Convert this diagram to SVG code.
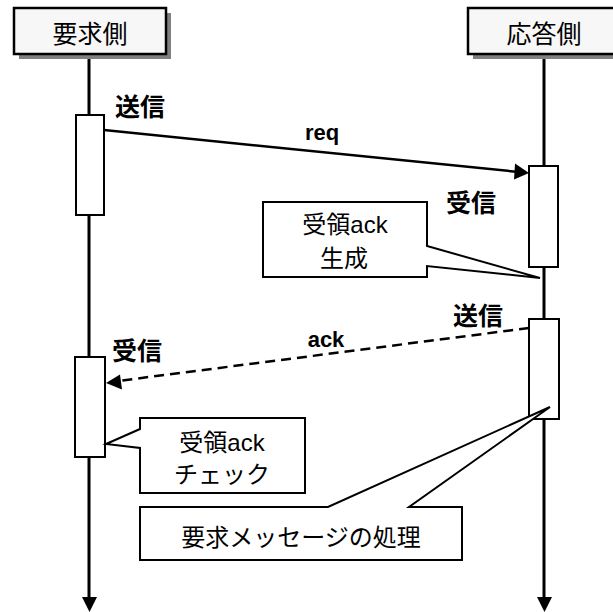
<svg xmlns="http://www.w3.org/2000/svg" width="613" height="612" viewBox="0 0 613 612">
<defs>
<style>
.t{font-family:"Liberation Sans","Noto Sans CJK JP",sans-serif;fill:#000}
.h{font-size:25px;text-anchor:middle}
.b{font-size:25px;font-weight:bold}
.l{font-size:22px;font-weight:bold;text-anchor:middle}
.c{font-size:24px;text-anchor:middle}
.box{fill:#fff;stroke:#000;stroke-width:2}
.hdr{fill:#f7f7f7;stroke:#000;stroke-width:2.5}
.sh{fill:#808080}
.life{stroke:#000;stroke-width:3;fill:none}
</style>
</defs>
<g id="connectors">
<line class="life" x1="89" y1="54" x2="89" y2="598"/>
<path d="M82,597 L97,597 L89.5,612 z" fill="#000"/>
<line class="life" x1="544" y1="54" x2="544" y2="598"/>
<path d="M537,597 L552,597 L544.5,612 z" fill="#000"/>
<line x1="104" y1="130" x2="519" y2="172" stroke="#000" stroke-width="2.5"/>
<path d="M529,173 L515,163.5 L514,179.5 z" fill="#000"/>
<line x1="529" y1="328" x2="118" y2="381" stroke="#000" stroke-width="2.5" stroke-dasharray="10,6"/>
<path d="M106,383 L120,374.5 L122,389.5 z" fill="#000"/>
</g>
<g id="req-header">
<rect class="sh" x="19" y="13" width="152" height="46"/>
<rect class="hdr" x="14" y="8" width="152" height="46"/>
<text class="t h" x="90" y="43">要求側</text>
</g>
<g id="res-header">
<rect class="sh" x="473" y="13" width="152" height="46"/>
<rect class="hdr" x="468" y="8" width="152" height="46"/>
<text class="t h" x="544" y="43">応答側</text>
</g>
<g id="act-req-send"><rect class="box" x="76" y="115" width="28" height="100"/></g>
<g id="act-res-recv"><rect class="box" x="529" y="166" width="29" height="101"/></g>
<g id="act-res-send"><rect class="box" x="529" y="319" width="30" height="100"/></g>
<g id="act-req-recv"><rect class="box" x="75" y="357" width="30" height="100"/></g>
<g id="labels">
<text class="t b" x="115" y="116">送信</text>
<text class="t l" x="322" y="140">req</text>
<text class="t b" x="446" y="212">受信</text>
<text class="t b" x="453" y="325">送信</text>
<text class="t l" x="326" y="347">ack</text>
<text class="t b" x="112" y="360">受信</text>
</g>
<g id="note-gen">
<path class="box" d="M263,202 L427,202 L427,246 L540,278 L427,266 L427,277 L263,277 Z"/>
<text class="t c" x="345" y="233">受領ack</text>
<text class="t c" x="344" y="267">生成</text>
</g>
<g id="note-check">
<path class="box" d="M140,418 L305,418 L305,493 L140,493 L140,448 L106,444 L140,429 Z"/>
<text class="t c" x="222" y="451">受領ack</text>
<text class="t c" x="222" y="483">チェック</text>
</g>
<g id="note-proc">
<path class="box" d="M140,507 L328,507 L550,407 L409,507 L462,507 L462,560 L140,560 Z"/>
<text class="t c" x="301" y="546">要求メッセージの処理</text>
</g>
</svg>
